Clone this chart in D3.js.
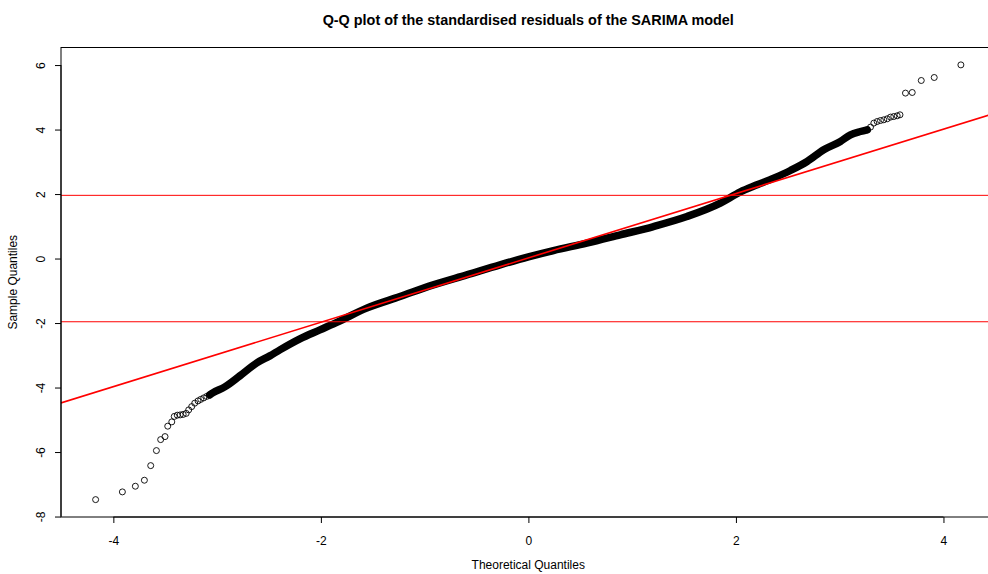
<!DOCTYPE html>
<html>
<head>
<meta charset="utf-8">
<script src="https://cdn.jsdelivr.net/npm/d3@7"></script>
<style>
    body { margin: 0; background: #ffffff; }
    text { font-family: "Liberation Sans", Arial, Helvetica, sans-serif; fill: #000; }
</style>
</head>
<body>
<svg id="chart" width="988" height="574"></svg>
<script>

// lower tail, points drawn one by one (theoretical / sample quantiles)
var lowTheo = [-4.171, -3.913, -3.788, -3.701, -3.640, -3.585, -3.544, -3.502, -3.476, -3.437,
               -3.413, -3.384, -3.356, -3.327, -3.298, -3.274, -3.245, -3.216, -3.184, -3.158,
               -3.129, -3.100, -3.071]
var lowSample = [-7.475, -7.236, -7.060, -6.874, -6.421, -5.955, -5.614, -5.521, -5.198, -5.065,
                 -4.895, -4.857, -4.848, -4.833, -4.801, -4.693, -4.591, -4.485, -4.414, -4.367,
                 -4.321, -4.274, -4.228]

// dense middle part, the points overlap into a solid band
var bandTheo = [-3.071, -3.042, -2.926, -2.781, -2.617, -2.492, -2.395, -2.202, -2.009, -1.836,
                -1.559, -1.238, -0.917, -0.594, -0.273, 0.000, 0.241, 0.563, 0.885, 1.206,
                1.528, 1.850, 2.043, 2.204, 2.364, 2.525, 2.686, 2.846, 3.007, 3.104,
                3.200, 3.265]
var bandSample = [-4.228, -4.166, -3.979, -3.638, -3.235, -3.018, -2.832, -2.491, -2.212, -1.963,
                  -1.538, -1.179, -0.816, -0.506, -0.195, 0.053, 0.248, 0.478, 0.735, 0.993,
                  1.303, 1.718, 2.069, 2.286, 2.494, 2.730, 3.009, 3.372, 3.629, 3.837,
                  3.939, 3.992]

// upper tail
var highTheo = [3.265, 3.297, 3.329, 3.361, 3.393, 3.425, 3.458, 3.490, 3.521, 3.554,
                3.581, 3.634, 3.699, 3.786, 3.911, 4.168]
var highSample = [3.992, 4.076, 4.200, 4.249, 4.280, 4.302, 4.333, 4.386, 4.404, 4.426,
                  4.457, 5.130, 5.149, 5.521, 5.614, 6.005]

var xTicks = [-4, -2, 0, 2, 4]
var yTicks = [-8, -6, -4, -2, 0, 2, 4, 6]

var qqLine = [0.02, 0.998]      // intercept, slope
var refLevels = [-1.96, 1.96]

var titleText = "Q-Q plot of the standardised residuals of the SARIMA model"
var xTitle = "Theoretical Quantiles"
var yTitle = "Sample Quantiles"

// prepare values
function zip(a, b){ return a.map(function(v, i){ return [v, b[i]] }) }

var lowPts = zip(lowTheo, lowSample)
var bandPts = zip(bandTheo, bandSample)
var highPts = zip(highTheo, highSample)
var allPts = lowPts.concat(bandPts, highPts)

// R style limits: data range widened by 4%
function rangePad(vals){
    var e = d3.extent(vals), p = (e[1] - e[0]) * 0.04
    return [e[0] - p, e[1] + p]
}
var xDom = rangePad(allPts.map(function(d){ return d[0] }))
var yDom = rangePad(allPts.map(function(d){ return d[1] }))

var plot = { left: 61, right: 995.5, top: 47.5, bottom: 517 }

var x = d3.scaleLinear().domain(xDom).range([plot.left, plot.right])
var y = d3.scaleLinear().domain(yDom).range([plot.bottom, plot.top])

var svg = d3.select("#chart")

svg.append("defs").append("clipPath").attr("id", "plotclip")
    .append("rect")
        .attr("x", plot.left).attr("y", plot.top)
        .attr("width", plot.right - plot.left).attr("height", plot.bottom - plot.top)

var g = svg.append("g").attr("clip-path", "url(#plotclip)")

// dense band
g.append("path")
    .datum(bandPts)
    .attr("d", d3.line()
        .x(function(d){ return x(d[0]) })
        .y(function(d){ return y(d[1]) })
        .curve(d3.curveMonotoneX))
    .attr("fill", "none")
    .attr("stroke", "#000")
    .attr("stroke-width", 7.5)
    .attr("stroke-linecap", "round")
    .attr("stroke-linejoin", "round")

// sparse points
g.selectAll("circle.pt")
    .data(lowPts.concat(highPts))
    .enter()
    .append("circle")
        .attr("class", "pt")
        .attr("cx", function(d){ return x(d[0]) })
        .attr("cy", function(d){ return y(d[1]) })
        .attr("r", 3)
        .attr("fill", "none")
        .attr("stroke", "#000")
        .attr("stroke-width", 0.9)

// horizontal reference lines
g.selectAll("line.ref")
    .data(refLevels)
    .enter()
    .append("line")
        .attr("class", "ref")
        .attr("x1", plot.left).attr("x2", plot.right)
        .attr("y1", function(d){ return y(d) })
        .attr("y2", function(d){ return y(d) })
        .attr("stroke", "#ff0000")
        .attr("stroke-width", 1)

// qq line
g.append("line")
    .attr("x1", x(xDom[0])).attr("y1", y(qqLine[0] + qqLine[1] * xDom[0]))
    .attr("x2", x(xDom[1])).attr("y2", y(qqLine[0] + qqLine[1] * xDom[1]))
    .attr("stroke", "#ff0000")
    .attr("stroke-width", 1.6)

// box
svg.append("rect")
    .attr("x", plot.left).attr("y", plot.top)
    .attr("width", plot.right - plot.left).attr("height", plot.bottom - plot.top)
    .attr("fill", "none")
    .attr("stroke", "#000")
    .attr("stroke-width", 1)

// axes, R prints a plain hyphen for the minus sign
var fmt = function(d){ return String(d) }

var xAxis = svg.append("g")
    .attr("transform", "translate(0," + plot.bottom + ")")
    .call(d3.axisBottom(x).tickValues(xTicks).tickSize(6).tickPadding(13).tickFormat(fmt))
xAxis.select(".domain")
    .attr("d", "M" + x(xTicks[0]) + ",0H" + x(xTicks[xTicks.length - 1]))
xAxis.selectAll("text").attr("font-size", 12).attr("font-family", null).attr("fill", "#000")

var yAxis = svg.append("g")
    .attr("transform", "translate(" + plot.left + ",0)")
    .call(d3.axisLeft(y).tickValues(yTicks).tickSize(6).tickPadding(0).tickFormat(fmt))
yAxis.select(".domain")
    .attr("d", "M0," + y(yTicks[0]) + "V" + y(yTicks[yTicks.length - 1]))
yAxis.selectAll(".tick text")
    .attr("x", null).attr("dy", null)
    .attr("transform", "translate(-16,0) rotate(-90)")
    .attr("text-anchor", "middle")
    .attr("font-size", 12).attr("font-family", null).attr("fill", "#000")

// titles
svg.append("text")
    .attr("x", (plot.left + plot.right) / 2)
    .attr("y", 24.5)
    .attr("text-anchor", "middle")
    .attr("font-size", 14.4)
    .attr("font-weight", "bold")
    .text(titleText)

svg.append("text")
    .attr("x", (plot.left + plot.right) / 2)
    .attr("y", 569)
    .attr("text-anchor", "middle")
    .attr("font-size", 12)
    .text(xTitle)

svg.append("text")
    .attr("transform", "translate(16.5," + ((plot.top + plot.bottom) / 2) + ") rotate(-90)")
    .attr("text-anchor", "middle")
    .attr("font-size", 12)
    .text(yTitle)

</script>
</body>
</html>
